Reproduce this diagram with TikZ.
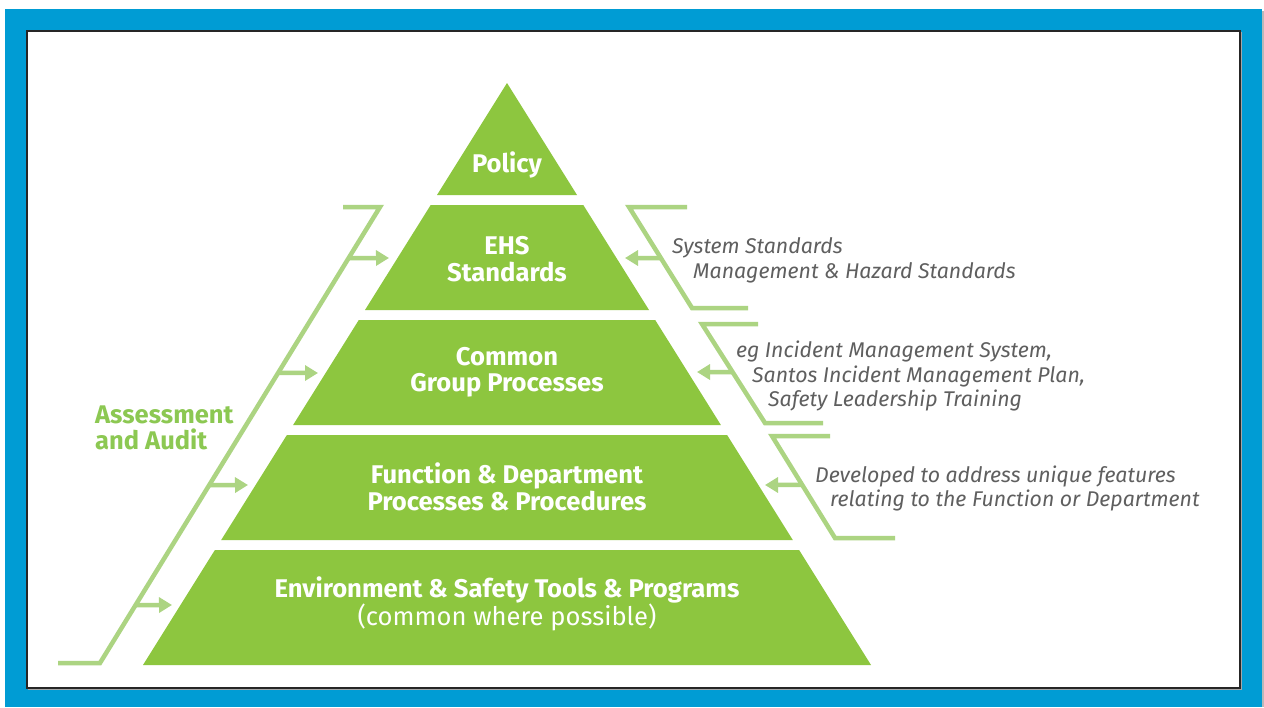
\documentclass[tikz,border=0pt]{standalone}
\usepackage{fontspec}
\setmainfont{Fira Sans}
\usetikzlibrary{arrows.meta,calc}
\definecolor{frameblue}{RGB}{0,156,212}
\definecolor{pyrgreen}{RGB}{141,198,63}
\definecolor{linegreen}{RGB}{172,212,130}
\definecolor{labelgreen}{RGB}{140,200,82}
\definecolor{notegrey}{RGB}{95,95,95}
\begin{document}
\begin{tikzpicture}[x=1pt,y=-1pt,
  tier/.style={fill=pyrgreen},
  tiertext/.style={text=white,font=\bfseries\fontsize{25.6}{26.5}\selectfont,align=center,inner sep=0pt},
  note/.style={text=notegrey,font=\itshape\fontsize{21.3}{24}\selectfont,anchor=base west,inner sep=0pt},
  bracket/.style={draw=linegreen,line width=4.5pt,line join=miter},
  feed/.style={draw=linegreen,line width=4.5pt,-{Triangle[length=13pt,width=15pt]}},
]
\useasboundingbox (0,0) rectangle (1264,707);
\fill[white] (0,0) rectangle (1264,707);
% blue frame with a soft shadow on its right side
\fill[gray!55] (7,11) rectangle (1264,707);
\fill[frameblue] (5,9) rectangle (1262,707);
\fill[gray!70] (28,32) rectangle (1242,690);
\fill[white] (27,31) rectangle (1240,688);
\draw[black!85,line width=1.4pt] (27,31) rectangle (1240,688);

% pyramid tiers
\fill[tier] (507,83) -- (577,195) -- (437,195) -- cycle;
\fill[tier] (430.7,205) -- (583.3,205) -- (649,310) -- (365,310) -- cycle;
\fill[tier] (358.8,320) -- (655.2,320) -- (720.9,425) -- (293.1,425) -- cycle;
\fill[tier] (286.9,435) -- (727.1,435) -- (792.8,540) -- (221.2,540) -- cycle;
\fill[tier] (214.9,550) -- (799.1,550) -- (871,665) -- (143,665) -- cycle;

\node[tiertext] (policy) at (507,165) {Policy};
\node[tiertext] (ehs) at (507,259) {EHS\\Standards};
\node[tiertext] (common) at (507,372) {Common\\Group Processes};
\node[tiertext] (function) at (507,487) {Function \& Department\\Processes \& Procedures};
\node[tiertext] (tools) at (507,604) {Environment \& Safety Tools \& Programs\\\mdseries(common where possible)};

% assessment bracket on the left
\coordinate (lb0) at (58,663);
\coordinate (lb1) at (100,663);
\coordinate (lb2) at (380,207);
\coordinate (lb3) at (343,207);
\draw[bracket] (lb0) -- (lb1) -- (lb2) -- (lb3);
\node[text=labelgreen,font=\bfseries\fontsize{25.5}{25.5}\selectfont,align=left,anchor=west,inner sep=0pt]
  (audit) at (95,428) {Assessment\\and Audit};

\coordinate (la1) at ($(lb2)!0.112!(lb1)$);
\coordinate (la2) at ($(lb2)!0.364!(lb1)$);
\coordinate (la3) at ($(lb2)!0.610!(lb1)$);
\coordinate (la4) at ($(lb2)!0.873!(lb1)$);
\coordinate (lt1) at (389,258);
\coordinate (lt2) at (318,373);
\coordinate (lt3) at (248,485);
\coordinate (lt4) at (172,605);
\draw[feed] (la1) -- (lt1);
\draw[feed] (la2) -- (lt2);
\draw[feed] (la3) -- (lt3);
\draw[feed] (la4) -- (lt4);

% feedback brackets on the right
\coordinate (ra0) at (687,207);
\coordinate (ra1) at (629,207);
\coordinate (ra2) at (692,308);
\coordinate (ra3) at (748,308);
\draw[bracket] (ra0) -- (ra1) -- (ra2) -- (ra3);
\coordinate (rs1) at ($(ra1)!0.505!(ra2)$);
\coordinate (rt1) at (625,258);
\draw[feed] (rs1) -- (rt1);

\coordinate (rb0) at (758,324);
\coordinate (rb1) at (702,324);
\coordinate (rb2) at (765,423);
\coordinate (rb3) at (823,423);
\draw[bracket] (rb0) -- (rb1) -- (rb2) -- (rb3);
\coordinate (rs2) at ($(rb1)!0.485!(rb2)$);
\coordinate (rt2) at (697,372);
\draw[feed] (rs2) -- (rt2);

\coordinate (rc0) at (830,436);
\coordinate (rc1) at (772,436);
\coordinate (rc2) at (835,538);
\coordinate (rc3) at (895,538);
\draw[bracket] (rc0) -- (rc1) -- (rc2) -- (rc3);
\coordinate (rs3) at ($(rc1)!0.480!(rc2)$);
\coordinate (rt3) at (765,485);
\draw[feed] (rs3) -- (rt3);

% notes
\node[note] (n1) at (672,253) {System Standards};
\node[note] (n2) at (693,278) {Management \& Hazard Standards};
\node[note] (n3) at (736,357) {eg Incident Management System,};
\node[note] (n4) at (752,382) {Santos Incident Management Plan,};
\node[note] (n5) at (768,406) {Safety Leadership Training};
\node[note] (n6) at (815,482) {Developed to address unique features};
\node[note] (n7) at (830,506) {relating to the Function or Department};
\end{tikzpicture}
\end{document}
